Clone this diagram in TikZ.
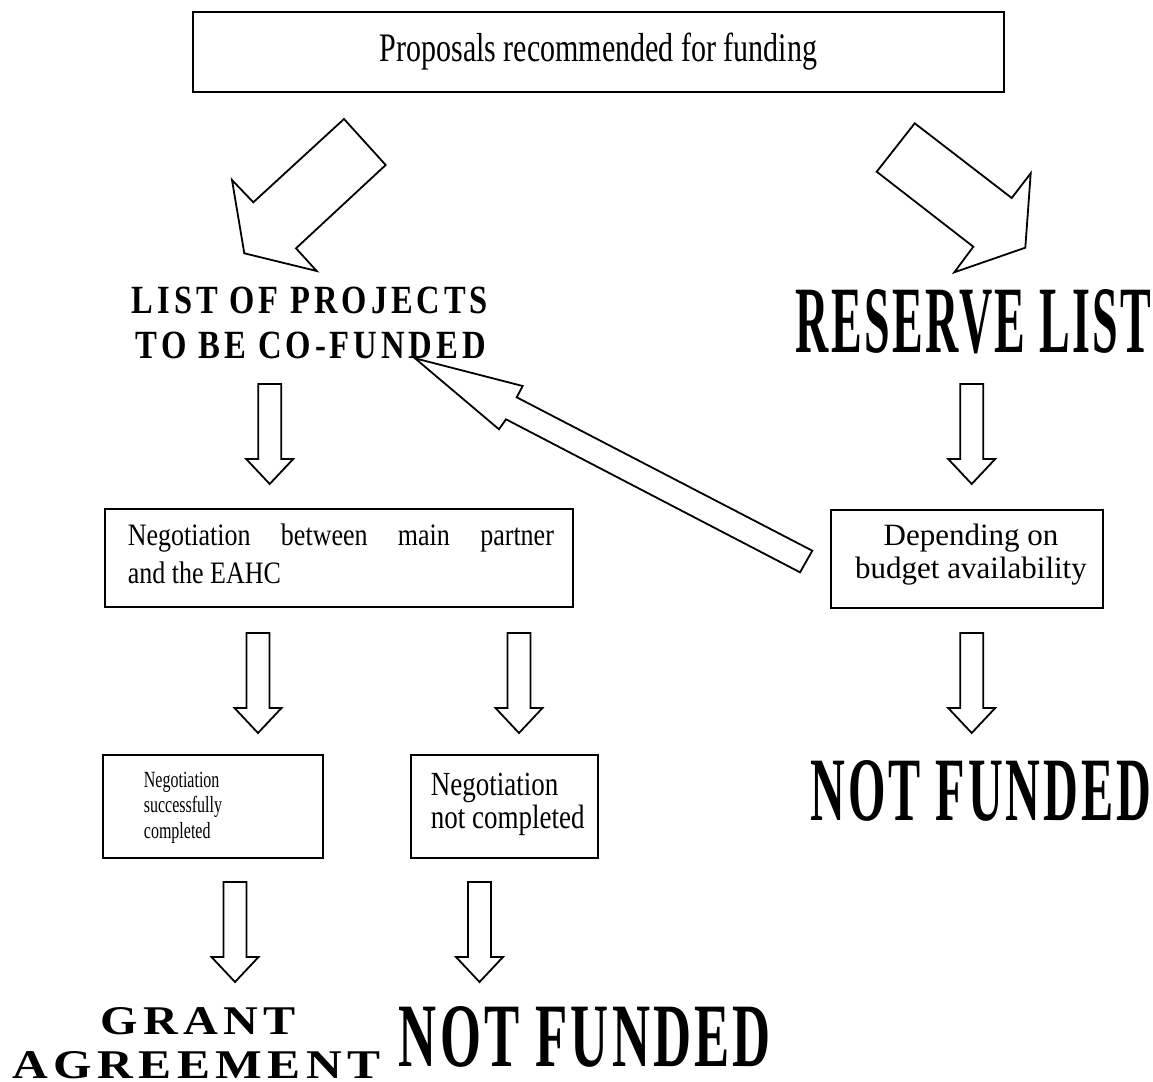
\documentclass[tikz,border=0pt]{standalone}
\usepackage{fontspec}
\usepackage{graphicx}
\setmainfont{Liberation Serif}
\newfontfamily\trackL[LetterSpace=12]{Liberation Serif}
\newfontfamily\trackG[LetterSpace=11]{Liberation Serif}
\newfontfamily\trackN[LetterSpace=6]{Liberation Serif}
\newfontfamily\trackR[LetterSpace=5]{Liberation Serif}
\begin{document}
\begin{tikzpicture}[x=1pt,y=-1pt,line width=1.8pt,line join=miter]
\tikzset{
  box/.style={draw, line width=1.8pt, inner sep=0pt, rectangle},
  blk/.style={draw, line width=1.8pt, line join=miter},
  txt/.style={inner sep=0pt},
  downarr/.pic={\draw[blk] (-11.5,0) -- (11.5,0) -- (11.5,75) -- (23.5,75) -- (0,100) -- (-23.5,75) -- (-11.5,75) -- cycle;}
}
\useasboundingbox (0,0) rectangle (1153,1081);
\fill[white] (0,0) rectangle (1153,1081);

% boxes
\node[box, minimum width=811pt, minimum height=80pt] (top) at (598.5,52)
  {\scalebox{1}[1.35]{\fontsize{30}{36}\selectfont Proposals recommended for funding}};
\node[box, minimum width=468pt, minimum height=98pt] (neg) at (339,558) {};
\node[box, minimum width=272pt, minimum height=98pt] (dep) at (967,559) {};
\node[box, minimum width=220pt, minimum height=103pt] (succ) at (213,806.5) {};
\node[box, minimum width=187pt, minimum height=103pt] (notc) at (504.5,806.5) {};

% box texts
\node[txt, anchor=base west] (negt) at (127,545)
  {\scalebox{1}[1.2]{\fontsize{26}{31.7}\selectfont\begin{tabular}[t]{@{}l@{}}\makebox[426pt][s]{Negotiation between main partner}\\ and the EAHC\end{tabular}}};
\node[txt, anchor=base] (dept) at (971,545)
  {\fontsize{31}{33}\selectfont\begin{tabular}[t]{@{}c@{}}Depending on\\ budget availability\end{tabular}};
\node[txt, anchor=base west] (succt) at (143,787)
  {\scalebox{1}[1.45]{\fontsize{16}{17.9}\selectfont\begin{tabular}[t]{@{}l@{}}Negotiation\\ successfully\\ completed\end{tabular}}};
\node[txt, anchor=base west] (notct) at (430,795)
  {\scalebox{1}[1.25]{\fontsize{27}{26.4}\selectfont\begin{tabular}[t]{@{}l@{}}Negotiation\\ not completed\end{tabular}}};

% big labels
\node[txt, anchor=base west] (list1) at (131,313) {\resizebox{356pt}{26.5pt}{\trackL\bfseries LIST OF PROJECTS}};
\node[txt, anchor=base west] (list2) at (135,358) {\resizebox{350pt}{26.5pt}{\trackL\bfseries TO BE CO-FUNDED}};
\node[txt, anchor=base west] (reserve) at (795,352) {\resizebox{355pt}{63pt}{\trackR\bfseries RESERVE LIST}};
\node[txt, anchor=base west] (nfr) at (810,820) {\resizebox{340pt}{60pt}{\trackN\bfseries NOT FUNDED}};
\node[txt, anchor=base west] (nfb) at (398,1066) {\resizebox{372pt}{60pt}{\trackN\bfseries NOT FUNDED}};
\node[txt, anchor=base west] (grant) at (100,1034) {\resizebox{195pt}{27pt}{\trackG\bfseries GRANT}};
\node[txt, anchor=base west] (agree) at (11.7,1078) {\resizebox{368pt}{27pt}{\trackG\bfseries AGREEMENT}};

% diagonal block arrows
\coordinate (tipL) at (244.3,253.3);
\coordinate (tipR) at (1025.3,247.7);
\coordinate (tipB) at (415,358.3);
\draw[blk] (344,119) -- (385.7,165) -- (296,248.3) -- (316.7,271) -- (tipL) -- (232,180) -- (253.3,202.3) -- cycle;
\draw[blk] (914.7,123.3) -- (1011.7,198) -- (1030.7,173.3) -- (tipR) -- (954.3,272.3) -- (973.3,246.7) -- (876.7,171.7) -- cycle;
\draw[blk] (tipB) -- (522.7,386) -- (516.7,397.3) -- (812.3,550.7) -- (800,572.3) -- (506,419.3) -- (499,429.3) -- cycle;

% down block arrows
\pic (a1) at (269.7,384) {downarr};
\pic (a2) at (971.7,384) {downarr};
\pic (a3) at (258,633) {downarr};
\pic (a4) at (519,633) {downarr};
\pic (a5) at (971.7,633) {downarr};
\pic (a6) at (235,882) {downarr};
\pic (a7) at (479.5,882) {downarr};
\end{tikzpicture}
\end{document}
